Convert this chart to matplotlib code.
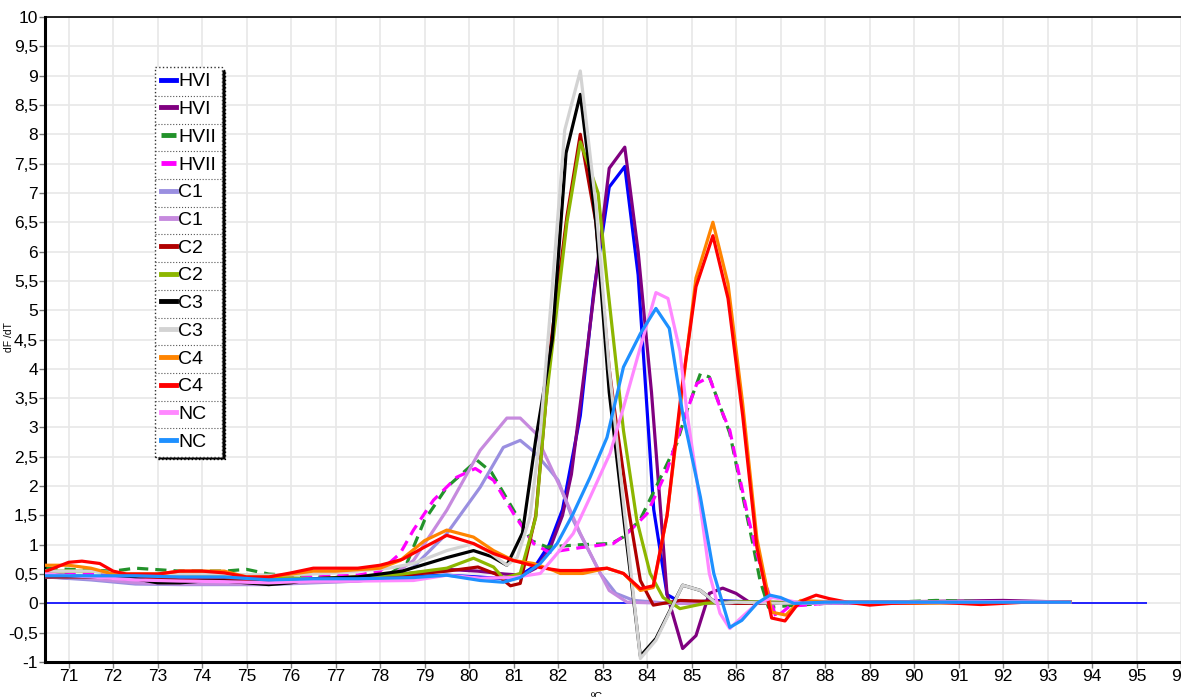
import matplotlib
matplotlib.use('Agg')
import matplotlib.pyplot as plt
from matplotlib import font_manager
from matplotlib.lines import Line2D
from matplotlib.ticker import FuncFormatter

names = {f.name for f in font_manager.fontManager.ttflist}
narrow = 'Liberation Sans Narrow' if 'Liberation Sans Narrow' in names else 'Liberation Sans'
plt.rcParams['font.family'] = [narrow, 'DejaVu Sans']

# melt curve data (temperature in degC, dF/dT)
hvi1_t = [70.5, 71.5, 72.5, 73.5, 74.5, 75.5, 76.5, 77.5, 78.5, 79.5, 80.2, 80.8, 81.2, 81.5, 81.8, 82.1,
          82.5, 82.8, 83.15, 83.5, 83.8, 84.15, 84.45, 84.8, 85.5, 86.5, 88, 90, 92, 93.5]
hvi1_v = [0.45, 0.45, 0.42, 0.4, 0.4, 0.38, 0.42, 0.42, 0.45, 0.48, 0.45, 0.42, 0.5, 0.65, 1.0, 1.6,
          3.2, 5.3, 7.1, 7.45, 5.6, 1.6, 0.15, 0.0, 0.05, 0.02, 0.0, 0.02, 0.03, 0.02]

hvi2_t = [70.5, 71.5, 72.5, 73.5, 74.5, 75.5, 76.5, 77.5, 78.5, 79.5, 80.2, 80.8, 81.2, 81.5, 81.8, 82.1,
          82.3, 82.65, 83.15, 83.5, 83.8, 84.1, 84.45, 84.8, 85.1, 85.4, 85.7, 86.0, 86.3, 87, 88, 90, 92, 93.5]
hvi2_v = [0.45, 0.42, 0.4, 0.38, 0.38, 0.37, 0.4, 0.45, 0.5, 0.58, 0.55, 0.5, 0.48, 0.6, 0.9, 1.5,
          2.2, 4.3, 7.42, 7.78, 6.0, 3.6, 0.15, -0.77, -0.55, 0.17, 0.26, 0.17, 0.02, 0.0, 0.02, 0.03, 0.05, 0.02]

hvii1_t = [70.5, 71.0, 72.0, 72.5, 73.5, 74.5, 75.0, 75.5, 76.5, 77.5, 78.2, 78.6, 79.0, 79.5, 80.18, 80.5,
           81.0, 81.4, 81.75, 82.5, 83.2, 83.46, 83.84, 84.2, 84.67, 84.9, 85.2, 85.4, 85.7, 85.86, 86.17,
           86.36, 86.54, 86.73, 87.0, 88, 89.5, 90.5, 92, 93.5]
hvii1_v = [0.6, 0.58, 0.55, 0.6, 0.55, 0.55, 0.58, 0.5, 0.45, 0.45, 0.5, 0.68, 1.42, 1.98, 2.44, 2.24,
           1.59, 1.07, 0.96, 1.0, 1.02, 1.13, 1.42, 1.98, 2.73, 3.3, 3.92, 3.86, 3.24, 2.9, 1.76,
           1.08, 0.39, -0.07, -0.05, 0.0, 0.02, 0.05, 0.02, 0.02]

hvii2_t = [70.5, 71.5, 72.5, 73.5, 74.5, 75.5, 76.5, 77.5, 78.0, 78.45, 78.75, 79.2, 79.72, 80.14, 80.55,
           81.0, 81.45, 81.8, 82.5, 83.24, 83.55, 84.0, 84.45, 84.74, 85.12, 85.4, 85.64, 85.86, 86.25,
           86.47, 86.76, 86.9, 87.2, 88, 90, 92, 93.5]
hvii2_v = [0.5, 0.5, 0.45, 0.45, 0.45, 0.42, 0.45, 0.48, 0.55, 0.85, 1.25, 1.76, 2.15, 2.3, 2.1,
           1.53, 1.02, 0.87, 0.95, 1.02, 1.19, 1.53, 2.27, 2.95, 3.75, 3.86, 3.35, 2.95, 1.54,
           0.85, 0.1, -0.24, -0.05, 0.0, 0.02, 0.03, 0.02]

c1a_t = [70.5, 71.5, 72.5, 73.5, 74.5, 75.5, 76.5, 77.5, 78.2, 78.75, 79.5, 80.25, 80.77, 81.15, 81.44,
         81.82, 82.0, 82.34, 82.95, 83.3, 83.7, 84.5, 86, 88, 90, 92, 93.5]
c1a_v = [0.45, 0.4, 0.33, 0.32, 0.32, 0.32, 0.35, 0.38, 0.45, 0.62, 1.19, 1.98, 2.66, 2.78, 2.6,
         2.27, 2.1, 1.42, 0.51, 0.17, 0.05, 0.0, 0.0, 0.02, 0.0, 0.03, 0.02]

c1b_t = [70.5, 71.5, 72.5, 73.5, 74.5, 75.5, 76.5, 77.5, 78.2, 78.75, 79.5, 80.25, 80.85, 81.15, 81.5,
         81.66, 82.05, 82.5, 82.95, 83.15, 83.55, 84.5, 86, 88, 90, 92, 93.5]
c1b_v = [0.5, 0.42, 0.35, 0.33, 0.33, 0.33, 0.36, 0.38, 0.45, 0.73, 1.59, 2.61, 3.16, 3.16, 2.9,
         2.61, 1.98, 1.19, 0.51, 0.22, 0.02, 0.0, 0.0, 0.0, 0.02, 0.03, 0.02]

c2a_t = [70.5, 71.5, 72.5, 73.5, 74.5, 75.5, 76.5, 77.5, 78.5, 79.5, 80.2, 80.6, 80.93, 81.15, 81.5,
         81.85, 82.2, 82.5, 82.85, 83.15, 83.3, 83.6, 83.85, 84.14, 84.74, 85.5, 86, 87, 88, 90, 92, 93.5]
c2a_v = [0.45, 0.45, 0.45, 0.4, 0.4, 0.4, 0.42, 0.45, 0.48, 0.55, 0.62, 0.5, 0.3, 0.34, 1.5,
         4.5, 6.6, 8.0, 6.5, 4.0, 3.12, 1.53, 0.39, -0.03, 0.05, 0.03, 0.0, 0.0, 0.02, 0.02, 0.02, 0.02]

c2b_t = [70.5, 71.5, 72.5, 73.5, 74.5, 75.5, 76.5, 77.5, 78.5, 79.5, 80.1, 80.55, 80.77, 81.15, 81.5,
         81.73, 82.2, 82.5, 82.9, 83.1, 83.47, 83.77, 84.07, 84.36, 84.74, 85.3, 86, 87, 88, 90, 92, 93.5]
c2b_v = [0.55, 0.55, 0.5, 0.5, 0.48, 0.45, 0.42, 0.45, 0.5, 0.6, 0.77, 0.62, 0.43, 0.51, 1.47,
         3.46, 6.5, 7.87, 7.0, 5.5, 2.95, 1.42, 0.51, 0.1, -0.09, 0.0, 0.03, 0.02, 0.02, 0.02, 0.02, 0.02]

c3a_t = [70.5, 71.5, 72.5, 73.0, 73.5, 74.0, 74.5, 75.5, 76.0, 76.5, 77.5, 78.5, 79.5, 80.1, 80.5, 80.85,
         81.2, 81.5, 81.87, 82.18, 82.5, 82.85, 83.15, 83.5, 83.85, 84.2, 84.8, 85.2, 85.56, 86, 87, 88,
         90, 92, 93.5]
c3a_v = [0.5, 0.45, 0.42, 0.35, 0.35, 0.38, 0.38, 0.32, 0.35, 0.42, 0.45, 0.55, 0.78, 0.9, 0.8, 0.65,
         1.2, 2.8, 4.5, 7.68, 8.68, 6.5, 3.6, 1.3, -0.9, -0.6, 0.31, 0.22, 0.0, 0.02, 0.0, 0.02,
         0.02, 0.02, 0.02]

c3b_t = [70.5, 71.5, 72.5, 73.5, 74.5, 75.5, 76.5, 77.5, 78.2, 78.75, 79.5, 80.1, 80.5, 80.85, 81.08,
         81.37, 81.6, 81.85, 82.15, 82.5, 82.85, 83.15, 83.5, 83.85, 84.2, 84.8, 85.2, 85.56, 86, 87, 88,
         90, 92, 93.5]
c3b_v = [0.55, 0.55, 0.5, 0.5, 0.5, 0.48, 0.5, 0.55, 0.6, 0.68, 0.9, 1.02, 0.85, 0.65, 0.78,
         1.47, 2.9, 5.2, 8.07, 9.08, 6.8, 4.0, 1.5, -0.94, -0.63, 0.31, 0.22, 0.0, 0.02, 0.0, 0.02,
         0.02, 0.02, 0.02]

c4a_t = [70.5, 71.0, 71.5, 72.0, 73.0, 73.5, 74.5, 75.0, 75.5, 76.0, 76.5, 77.0, 78.0, 78.45, 79.0, 79.5,
         80.1, 80.55, 81.0, 81.45, 81.9, 82.05, 82.56, 83.1, 83.47, 83.85, 84.14, 84.45, 84.77, 85.1,
         85.48, 85.82, 86.15, 86.47, 86.8, 87.12, 87.45, 88, 90, 92, 93.5]
c4a_v = [0.65, 0.65, 0.6, 0.5, 0.5, 0.55, 0.55, 0.45, 0.45, 0.5, 0.55, 0.55, 0.6, 0.73, 1.07, 1.25,
         1.13, 0.9, 0.73, 0.68, 0.56, 0.51, 0.51, 0.6, 0.51, 0.22, 0.27, 1.5, 3.5, 5.55,
         6.5, 5.45, 3.4, 1.1, -0.15, -0.2, 0.05, 0.03, 0.0, 0.02, 0.02]

c4b_t = [70.5, 71.0, 71.3, 71.7, 72.0, 72.3, 73.0, 73.5, 74.0, 74.5, 75.0, 75.5, 76.0, 76.5, 77.0, 77.5,
         78.0, 78.5, 79.0, 79.5, 80.1, 80.55, 81.0, 81.6, 82.05, 82.5, 83.1, 83.47, 83.85, 84.14, 84.45,
         84.77, 85.1, 85.48, 85.82, 86.15, 86.47, 86.8, 87.1, 87.35, 87.5, 87.8, 88.1, 88.5, 89.0, 89.5,
         90.5, 91.5, 92.5, 93.5]
c4b_v = [0.55, 0.7, 0.72, 0.68, 0.55, 0.5, 0.5, 0.55, 0.55, 0.52, 0.45, 0.45, 0.52, 0.6, 0.6, 0.6,
         0.65, 0.75, 0.96, 1.16, 1.02, 0.85, 0.73, 0.61, 0.56, 0.56, 0.6, 0.51, 0.25, 0.3, 1.5,
         3.6, 5.4, 6.27, 5.2, 3.2, 0.95, -0.25, -0.3, -0.05, 0.05, 0.14, 0.08, 0.02, -0.03, 0.0,
         0.02, -0.02, 0.02, 0.02]

nc1_t = [70.5, 71.5, 72.5, 73.5, 74.5, 75.5, 76.5, 77.5, 78.75, 79.5, 80.25, 81.0, 81.6, 81.98, 82.34,
         82.72, 83.17, 83.47, 83.85, 84.2, 84.47, 84.74, 84.9, 85.12, 85.4, 85.64, 85.86, 86.05, 86.47,
         86.83, 87.5, 88, 90, 92, 93.5]
nc1_v = [0.5, 0.45, 0.4, 0.38, 0.37, 0.35, 0.38, 0.38, 0.39, 0.48, 0.43, 0.44, 0.51, 0.85, 1.19,
         1.81, 2.56, 3.34, 4.37, 5.3, 5.2, 4.3, 3.24, 2.1, 0.51, -0.17, -0.43, -0.29, 0.0,
         0.1, 0.0, 0.02, 0.02, 0.03, 0.02]

nc2_t = [70.5, 71.5, 72.5, 73.5, 74.5, 75.5, 76.5, 77.5, 78.75, 79.5, 80.25, 80.77, 81.15, 81.6, 81.98,
         82.34, 82.72, 83.1, 83.47, 83.85, 84.2, 84.5, 84.8, 85.2, 85.5, 85.86, 86.13, 86.47, 86.76,
         87.0, 87.3, 88, 90, 92, 93.5]
nc2_v = [0.47, 0.47, 0.47, 0.45, 0.45, 0.4, 0.42, 0.42, 0.44, 0.48, 0.39, 0.36, 0.44, 0.68, 1.02,
         1.53, 2.15, 2.83, 4.03, 4.6, 5.03, 4.69, 3.24, 1.81, 0.51, -0.41, -0.29, 0.0, 0.14,
         0.1, 0.0, 0.02, 0.02, 0.02, 0.02]

labels = ['HVI', 'HVI', 'HVII', 'HVII', 'C1', 'C1', 'C2', 'C2', 'C3', 'C3', 'C4', 'C4', 'NC', 'NC']
colors = ['#0000FF', '#800080', '#22922A', '#FF00FF', '#9A8FE0', '#C68ADE', '#B00000', '#8DB600',
          '#000000', '#D3D3D3', '#FF8400', '#FF0000', '#FF88FF', '#1E90FF']
styles = ['-', '-', '--', '--', '-', '-', '-', '-', '-', '-', '-', '-', '-', '-']
series = [(hvi1_t, hvi1_v), (hvi2_t, hvi2_v), (hvii1_t, hvii1_v), (hvii2_t, hvii2_v),
          (c1a_t, c1a_v), (c1b_t, c1b_v), (c2a_t, c2a_v), (c2b_t, c2b_v),
          (c3a_t, c3a_v), (c3b_t, c3b_v), (c4a_t, c4a_v), (c4b_t, c4b_v),
          (nc1_t, nc1_v), (nc2_t, nc2_v)]

W, H = 1181, 697
fig = plt.figure(figsize=(W / 100, H / 100), dpi=100)
ax = fig.add_axes([45 / W, 1 - 662 / H, 1 - 45 / W, (662 - 17) / H])
xmin, xmax = 70.47, 96.0
ax.set_xlim(xmin, xmax)
ax.set_ylim(-1, 10)

ax.hlines(0, xmin, 95.24, color='#0000FF', lw=1.2, zorder=2)
for (t, v), lab, c, ls in zip(series, labels, colors, styles):
    ax.plot(t, v, color=c, ls=ls, lw=2.3, label=lab, zorder=3,
            dashes=(3.5, 2.2) if ls == '--' else (None, None))

ax.set_xticks(range(71, 97))
ax.set_yticks([i / 2 for i in range(-2, 21)])
ax.yaxis.set_major_formatter(FuncFormatter(lambda y, p: ('%g' % y).replace('.', ',')))
ax.grid(True, color='#E8E8E8', lw=1.2, zorder=0)
ax.tick_params(axis='both', length=4, width=1, color='#777777', labelsize=12.5, pad=1)
for s in ['left', 'bottom']:
    ax.spines[s].set_linewidth(2.2)
ax.spines['top'].set_linewidth(1.2)
ax.spines['right'].set_visible(False)

fig.text(9 / W, 1 - 337 / H, 'dF /dT', rotation=90, ha='center', va='center', fontsize=7.5)
fig.text(597 / W, 1 - 697 / H, 'ºC', ha='center', va='center', fontsize=8)

leg = ax.legend(loc='upper left', bbox_to_anchor=(155 / W, 1 - 67 / H), bbox_transform=fig.transFigure,
                fontsize=14, handlelength=0.8, handletextpad=0.1, labelspacing=0.52, borderpad=0.3,
                borderaxespad=0, fancybox=False, framealpha=1, edgecolor='#333333',
                shadow={'facecolor': 'black', 'edgecolor': 'black', 'alpha': 1})
leg.get_frame().set_linestyle(':')
leg.get_frame().set_linewidth(1)
for h in leg.get_lines():
    h.set_linewidth(3.5)

# dotted separators between legend rows
fig.canvas.draw()
r = fig.canvas.get_renderer()
box = leg.get_frame().get_window_extent(r)
ys = [tx.get_window_extent(r) for tx in leg.get_texts()]
for a, b in zip(ys[:-1], ys[1:]):
    y = (a.y0 + b.y1) / 2
    fig.add_artist(Line2D([box.x0 / W, box.x1 / W], [y / H, y / H], transform=fig.transFigure,
                          color='#555555', lw=0.8, ls=':', zorder=10))

fig.savefig('out.png', dpi=100)
